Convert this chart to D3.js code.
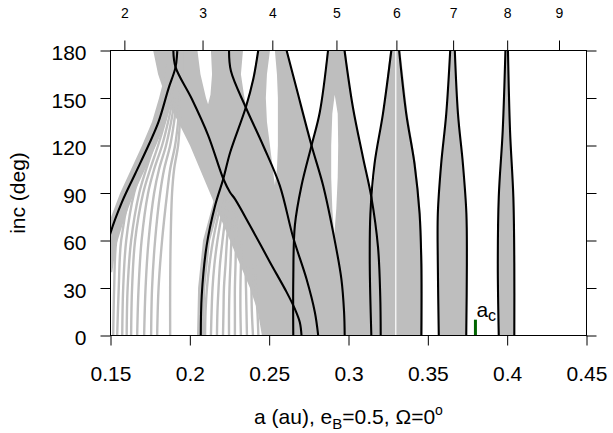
<!DOCTYPE html>
<html><head><meta charset="utf-8">
<script src="https://cdn.jsdelivr.net/npm/d3@7"></script>
<style>
body{margin:0;background:#fff;}
text{font-family:"Liberation Sans",Arial,Helvetica,sans-serif;fill:#000;}
</style></head><body>
<svg id="chart" width="613" height="433"></svg>
<script>
// ---------- data ----------
const aB = 0.1;                       // binary semi-major axis (au), for period-ratio axis
const xTicks = [0.15, 0.2, 0.25, 0.3, 0.35, 0.4, 0.45];
const xTickLabels = ["0.15", "0.2", "0.25", "0.3", "0.35", "0.4", "0.45"];
const yTicks = [0, 30, 60, 90, 120, 150, 180];
const topTicks = [2, 3, 4, 5, 6, 7, 8, 9];
const ac = 0.38, acInc = 10;

// black boundary curves [a, inc]
const res2Right = [[0.1896,180],[0.1910,169.5],[0.2012,149.5],[0.2116,126.3],[0.2211,99],[0.2253,90.5],[0.2284,86.3],[0.2379,69.5],[0.2505,46.3],[0.2610,27.4],[0.2662,16.8],[0.2693,8.4],[0.2704,0]];
const res3Left  = [[0.1480,57],[0.1498,64.2],[0.1572,84.2],[0.1655,102],[0.1739,120],[0.1802,134.7],[0.1865,155.8],[0.1910,169.5],[0.1921,180]];
const res3Right = [[0.2247,180],[0.2259,167],[0.2353,144],[0.2462,120],[0.2567,94.7],[0.2651,62],[0.2735,35.8],[0.2788,14.7],[0.2809,0]];
const res4Left  = [[0.2069,0],[0.2075,25.3],[0.2106,56.8],[0.2159,82],[0.2211,99],[0.2254,115.6],[0.2353,144.2],[0.2400,162],[0.2431,180]];
const res4Right = [[0.2610,180],[0.2673,155.8],[0.2767,120],[0.2840,94.7],[0.2903,65.3],[0.2955,35.8],[0.2972,15],[0.2976,0]];
const res5Left  = [[0.2871,180],[0.2819,141],[0.2767,120],[0.2704,94.7],[0.2662,69.5],[0.2652,35.8],[0.2652,0]];
const res5Right = [[0.2975,180],[0.3028,144],[0.3091,112.6],[0.3144,87.4],[0.3186,55.8],[0.3200,25],[0.3203,0]];
const res6Left  = [[0.3270,180],[0.3217,140],[0.3164,108.4],[0.3138,76.9],[0.3134,45.3],[0.3144,0]];
const res6Right = [[0.3319,180],[0.3364,140],[0.3416,108.4],[0.3448,76.9],[0.3459,45.3],[0.3459,0]];
const res7Left  = [[0.3641,180],[0.3616,140],[0.3584,108.4],[0.3563,77],[0.3563,45],[0.3569,0]];
const res7Right = [[0.3670,180],[0.3690,140],[0.3721,108.4],[0.3743,77],[0.3746,45],[0.3742,0]];
const res8Left  = [[0.3989,180],[0.3972,129.5],[0.3947,87.4],[0.3941,45.3],[0.3947,0]];
const res8Right = [[0.4005,180],[0.4018,129.5],[0.4039,87.4],[0.4045,45.3],[0.4045,0]];

// grey family: main covered region and its empty gaps [a, inc]
const coreLeft  = [[0.2454,0],[0.2429,15],[0.2379,30],[0.2316,45],[0.2253,60],[0.2190,75],[0.2127,90],[0.2064,105],[0.2001,120],[0.1926,135],[0.1850,150],[0.1800,165],[0.1769,180]];
const coreRight = [[0.3467,0],[0.3467,45.3],[0.3456,76.9],[0.3424,108.4],[0.3372,140],[0.3327,180]];
const gapA = [[0.2048,185],[0.2048,180],[0.2067,165],[0.2102,150],[0.2115,146],[0.2130,152],[0.2140,165],[0.2133,180],[0.2133,185]];
const gapB = [[0.2335,185],[0.2335,180],[0.2322,165],[0.2341,152],[0.2354,145],[0.2372,152],[0.2398,163],[0.2427,180],[0.2427,185]];
const gapC = [[0.2505,185],[0.2505,180],[0.2486,165],[0.2479,150],[0.2486,135],[0.2505,120],[0.2523,105],[0.2536,95],[0.2549,105],[0.2555,120],[0.2555,135],[0.2555,150],[0.2549,165],[0.2536,180],[0.2536,185]];
const gapD = [[0.2615,185],[0.2615,180],[0.2637,170],[0.2674,155],[0.2718,138],[0.2767,120],[0.2794,130],[0.2819,141],[0.2844,160],[0.2866,180],[0.2866,185]];
const gapE = [[0.2983,185],[0.2983,180],[0.2998,165],[0.3028,144],[0.3058,128],[0.3091,112.6],[0.3121,100],[0.3152,87],[0.3162,100],[0.3165,108.4],[0.3184,122],[0.3215,140],[0.3240,160],[0.3262,180],[0.3262,185]];
const gapF = [[0.2913,152],[0.2898,140],[0.2891,120],[0.2891,100],[0.2898,80],[0.2910,63],[0.2923,80],[0.2932,100],[0.2935,120],[0.2932,140]];
const res6Gap = [[0.3298,0],[0.3298,180]];

// grey band along res3Left and along res4Left (lower part)
const bandAInc   = [40, 57, 75, 90, 105, 120, 135, 150, 165, 180];
const bandALeft  = [0.1400, 0.1454, 0.1504, 0.1561, 0.1630, 0.1699, 0.1762, 0.1806, 0.1844, 0.1863];
const bandARight = [0.1511, 0.1536, 0.1592, 0.1649, 0.1718, 0.1787, 0.1850, 0.1894, 0.1926, 0.1938];
const bandCInc   = [0, 30, 60, 85];
const bandCLeft  = [0.2045, 0.2052, 0.2083, 0.2150];
const bandCRight = [0.2090, 0.2097, 0.2128, 0.2195];

// individual grey lines, lower left fan
const fanInc = [0, 30, 60, 90, 105, 120, 135, 150, 165, 180];
const fanLines = [
  [0.1517,0.1523,0.1536,0.1592,0.1655,0.1750,0.1813,0.1857,0.1894,0.1913],
  [0.1542,0.1552,0.1567,0.1624,0.1674,0.1756,0.1819,0.1863,0.1901,0.1920],
  [0.1574,0.1580,0.1599,0.1649,0.1699,0.1769,0.1825,0.1869,0.1907,0.1926],
  [0.1602,0.1608,0.1630,0.1681,0.1725,0.1775,0.1831,0.1876,0.1907,0.1926],
  [0.1630,0.1636,0.1655,0.1706,0.1750,0.1800,0.1844,0.1882,0.1913,0.1926],
  [0.1668,0.1677,0.1696,0.1737,0.1775,0.1825,0.1863,0.1894,0.1920,0.1932],
  [0.1712,0.1721,0.1740,0.1775,0.1806,0.1850,0.1882,0.1907,0.1926,0.1938],
  [0.1756,0.1762,0.1781,0.1813,0.1838,0.1876,0.1901,0.1920,0.1932,0.1938],
  [0.1794,0.1803,0.1825,0.1857,0.1876,0.1907,0.1926,0.1938,0.1945,0.1945],
  [0.1876,0.1876,0.1879,0.1888,0.1901,0.1926,0.1938,0.1951,0.1951,0.1951]
];
// individual grey lines between res4Left and res2Right, low inclination
const stripeInc = [0, 15, 30, 45, 60, 75, 90];
const stripeLines = [
  [0.2096,0.2099,0.2108,0.2124,0.2146,0.2177,0.2215],
  [0.2133,0.2137,0.2143,0.2155,0.2174,0.2199,0.2228],
  [0.2171,0.2174,0.2181,0.2190,0.2206,0.2225,0.2247],
  [0.2209,0.2212,0.2215,0.2225,0.2234,0.2247,0.2266],
  [0.2247,0.2247,0.2250,0.2256,0.2262,0.2272,0.2284],
  [0.2284,0.2284,0.2284,0.2288,0.2291,0.2294,0.2303],
  [0.2322,0.2319,0.2319,0.2322,0.2325],
  [0.2360,0.2357,0.2354,0.2350],
  [0.2398,0.2391,0.2388,0.2385],
  [0.2432,0.2426,0.2416,0.2410]
];

// ---------- drawing ----------
const GREY = "#bebebe";
const svg = d3.select("#chart");
const x = d3.scaleLinear().domain([0.15, 0.45]).range([110.5, 586.5]);
const y = d3.scaleLinear().domain([0, 180]).range([335.5, 50.5]);
const topScale = d3.scalePow().exponent(2/3).domain([0, 9])
  .range([x(0), x(aB * Math.pow(9, 2/3))]);

svg.append("defs").append("clipPath").attr("id", "plotclip")
  .append("rect").attr("x", x(0.15)).attr("y", y(180))
  .attr("width", x(0.45) - x(0.15)).attr("height", y(0) - y(180));

const plot = svg.append("g").attr("clip-path", "url(#plotclip)");
const poly = d3.line().x(d => x(d[0])).y(d => y(d[1])).curve(d3.curveLinearClosed);
const smooth = d3.line().x(d => x(d[0])).y(d => y(d[1])).curve(d3.curveCatmullRom.alpha(0.5));
const band = (inc, l, r) => l.map((a, i) => [a, inc[i]]).concat(r.map((a, i) => [a, inc[i]]).reverse());

// grey filled regions
const corePoly = coreLeft.concat(coreRight.slice().reverse());
const coreD = poly(corePoly) + [gapA, gapB, gapC, gapD, gapE, gapF].map(g => poly(g)).join("");
plot.append("path").attr("d", coreD).attr("fill", GREY).attr("fill-rule", "evenodd");
plot.append("path").attr("d", poly(band(bandAInc, bandALeft, bandARight))).attr("fill", GREY);
plot.append("path").attr("d", poly(band(bandCInc, bandCLeft, bandCRight))).attr("fill", GREY);
plot.append("path").attr("d", poly(res7Left.concat(res7Right.slice().reverse()))).attr("fill", GREY);
plot.append("path").attr("d", poly(res8Left.concat(res8Right.slice().reverse()))).attr("fill", GREY);

// grey lines
fanLines.forEach(vals => {
  plot.append("path").attr("d", smooth(vals.map((a, i) => [a, fanInc[i]])))
    .attr("fill", "none").attr("stroke", GREY).attr("stroke-width", 2.4);
});
stripeLines.forEach(vals => {
  plot.append("path").attr("d", smooth(vals.map((a, i) => [a, stripeInc[i]])))
    .attr("fill", "none").attr("stroke", GREY).attr("stroke-width", 2.4);
});
plot.append("path").attr("d", smooth(res6Gap)).attr("fill", "none")
  .attr("stroke", "#fff").attr("stroke-width", 1.2);

// black boundaries
[res2Right, res3Left, res3Right, res4Left, res4Right, res5Left, res5Right,
 res6Left, res6Right, res7Left, res7Right, res8Left, res8Right].forEach(c => {
  plot.append("path").attr("d", smooth(c)).attr("fill", "none")
    .attr("stroke", "#000").attr("stroke-width", 2.1);
});

// a_c marker
svg.append("line").attr("x1", x(ac)).attr("x2", x(ac)).attr("y1", y(0)).attr("y2", y(acInc))
  .attr("stroke", "#006400").attr("stroke-width", 3);
const acT = svg.append("text").attr("x", x(ac) + 1).attr("y", 317).attr("font-size", 21);
acT.append("tspan").text("a");
acT.append("tspan").attr("font-size", 16).attr("dy", 4).text("c");

// frame
svg.append("rect").attr("x", x(0.15)).attr("y", y(180))
  .attr("width", x(0.45) - x(0.15)).attr("height", y(0) - y(180))
  .attr("fill", "none").attr("stroke", "#000").attr("stroke-width", 1);

// axes
function styleAxis(g, fs) {
  g.select(".domain").remove();
  g.selectAll(".tick line").attr("stroke", "#000").attr("stroke-width", 1);
  g.selectAll(".tick text").attr("font-size", fs)
    .attr("font-family", '"Liberation Sans", Arial, Helvetica, sans-serif').attr("fill", "#000");
}
svg.append("g").attr("transform", `translate(0,${y(0)})`)
  .call(d3.axisBottom(x).tickValues(xTicks).tickFormat((d, i) => xTickLabels[i]).tickSize(10).tickPadding(21))
  .call(g => styleAxis(g, 21));
svg.append("g").attr("transform", `translate(${x(0.15)},0)`)
  .call(d3.axisLeft(y).tickValues(yTicks).tickSize(10).tickPadding(14))
  .call(g => styleAxis(g, 21))
  .call(g => g.selectAll(".tick text").attr("dy", "0.43em"));
svg.append("g").attr("transform", `translate(${x(0.45)},0)`)
  .call(d3.axisRight(y).tickValues(yTicks).tickSize(10).tickFormat(""))
  .call(g => styleAxis(g, 21));
svg.append("g").attr("transform", `translate(0,${y(180)})`)
  .call(d3.axisTop(topScale).tickValues(topTicks).tickSize(10).tickPadding(23))
  .call(g => styleAxis(g, 14));

// titles
const xt = svg.append("text").attr("x", (x(0.15) + x(0.45)) / 2).attr("y", 424)
  .attr("text-anchor", "middle").attr("font-size", 21);
xt.append("tspan").text("a (au), e");
xt.append("tspan").attr("font-size", 15).attr("dy", 5).text("B");
xt.append("tspan").attr("dy", -5).text("=0.5, \u03A9=0");
xt.append("tspan").attr("font-size", 14).attr("dy", -9).text("o");

svg.append("text").attr("transform", `translate(25,${(y(0) + y(180)) / 2}) rotate(-90)`)
  .attr("text-anchor", "middle").attr("font-size", 21).text("inc (deg)");
</script>
</body></html>
